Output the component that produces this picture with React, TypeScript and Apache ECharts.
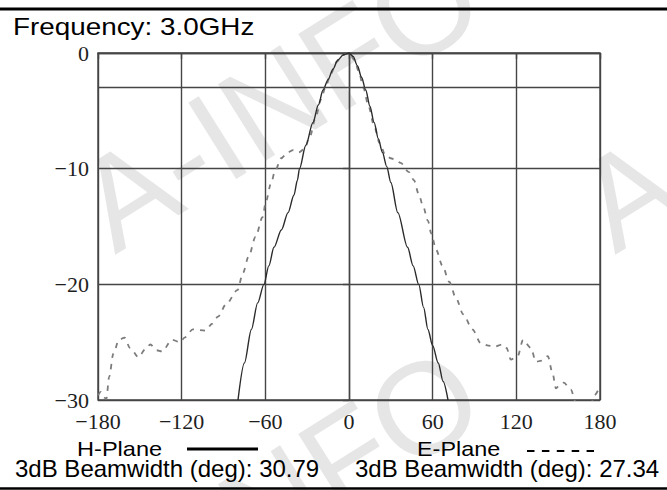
import React, { useEffect, useRef } from "react";
import * as echarts from "echarts";

// ---- data ----
const xTicks = [-180, -120, -60, 0, 60, 120, 180];
const yTicks = [-30, -20, -10, 0];
const refLevel = -3;

const hAngles = [-79.6, -75, -70, -65.5, -61, -57.5, -53.8, -48.5, -43.7, -39.5, -37, -35.5, -31, -25.8, -22, -18.6, -15, -11.5, -8, -4, 0, 3, 6, 9, 12, 15, 18, 21, 24, 27, 30, 35, 42, 46, 50, 53.5, 56.6, 60, 64, 67.5, 71];
const hValues = [-30, -26.8, -23.9, -21.6, -20, -18.4, -16.8, -15.3, -13.8, -12.3, -11, -10, -8, -6, -4.5, -3.2, -2.3, -1.4, -0.6, -0.15, 0, -0.3, -1.1, -2.1, -3.2, -4.6, -6.0, -7.4, -8.6, -9.8, -11.2, -13.8, -16.8, -18.4, -20, -22, -23.9, -25.3, -26.8, -28.4, -30];

const eAngles = [-180, -178, -175.5, -174, -172, -169, -165, -161, -157, -151, -146, -142.5, -138, -134, -127, -121, -118, -112, -103, -98, -94, -88, -80, -76, -72, -67, -62, -59.5, -56, -53, -48.7, -44, -40, -36, -32, -28, -24, -20, -17, -13, -9, -5, 0, 4, 7, 10.3, 14, 18, 22, 26, 30, 33, 37, 43, 46.6, 50, 53, 56.6, 59, 62.4, 67, 72, 76.7, 82, 88.5, 94.6, 100, 104, 110, 113, 116, 121, 124.8, 130.5, 134, 138, 142.6, 146, 148.4, 151, 154, 159, 163, 170, 174, 176, 180];
const eValues = [-29.6, -29.3, -29.8, -29.9, -28, -26, -24.8, -24.6, -25.5, -26.3, -25.6, -25.2, -25.7, -25.8, -24.8, -25, -24.6, -23.9, -24, -23.4, -22.8, -21.7, -20.5, -19, -17.6, -15.9, -14.2, -12.8, -11.3, -10.2, -9.1, -8.6, -8.4, -8.6, -8.3, -7.2, -5.6, -4.0, -3.0, -1.8, -0.8, -0.2, 0, -0.6, -1.6, -3.0, -4.6, -6.3, -7.8, -8.8, -9.1, -9.2, -9.5, -10.3, -11, -12.2, -13.2, -14.5, -15.6, -17, -18.4, -19.8, -21.2, -22.6, -23.9, -25.1, -25.3, -25.4, -25.2, -25.5, -26.5, -26.2, -24.8, -25.5, -26.7, -26.6, -26.2, -27.7, -29, -28.7, -28.5, -29.1, -30.3, -30.8, -30.2, -29.6, -28.8];

const titleText = "Frequency: 3.0GHz";
const hName = "H-Plane";
const eName = "E-Plane";
const hBeam = "3dB Beamwidth (deg): 30.79";
const eBeam = "3dB Beamwidth (deg): 27.34";
const watermark = "A-INFO";

const SANS = "'Liberation Sans', Arial, sans-serif";
const SERIF = "'Liberation Serif', 'Times New Roman', serif";
const GRIDC = "#454545";

function fmt(v: number) {
  return String(v).replace("-", "\u2212");
}

function textEl(text: string, x: number, baseline: number, size: number, scaleX = 1) {
  return {
    type: "text",
    x,
    y: baseline - 0.3465 * size,
    scaleX,
    z: 10,
    silent: true,
    style: {
      text,
      x: 0,
      y: 0,
      font: `${size}px ${SANS}`,
      fill: "#000",
      align: "left",
      verticalAlign: "middle",
    },
  };
}

function wmEl(x: number, y: number) {
  const size = 131;
  return {
    type: "text",
    x,
    y,
    rotation: 0.56,
    z: -100,
    silent: true,
    style: {
      text: watermark,
      x: 0,
      y: -0.3465 * size,
      font: `${size}px ${SANS}`,
      fill: "#e6e6e6",
      align: "left",
      verticalAlign: "middle",
    },
  };
}

export default function App() {
  const ref = useRef<HTMLDivElement>(null);
  useEffect(() => {
    if (!ref.current) return;
    const chart = echarts.init(ref.current, undefined, { renderer: "svg" });
    const axisStyle = { color: GRIDC, width: 1.4 };
    const labelStyle = {
      fontFamily: SERIF,
      fontSize: 22,
      color: "#1e1e1e",
      formatter: (v: number) => fmt(v),
    };
    chart.setOption({
      animation: false,
      grid: { left: 98, top: 53, width: 502, height: 347, show: true, borderColor: GRIDC, borderWidth: 1.4, z: 1 },
      xAxis: {
        type: "value",
        min: xTicks[0],
        max: xTicks[xTicks.length - 1],
        interval: 60,
        axisLine: { show: true, lineStyle: axisStyle },
        axisTick: { show: true, length: 6, lineStyle: axisStyle },
        splitLine: { show: true, lineStyle: axisStyle },
        axisLabel: { margin: 10, ...labelStyle },
      },
      yAxis: {
        type: "value",
        min: yTicks[0],
        max: yTicks[yTicks.length - 1],
        interval: 10,
        axisLine: { show: true, lineStyle: axisStyle },
        axisTick: { show: true, length: 6, lineStyle: axisStyle },
        splitLine: { show: true, lineStyle: axisStyle },
        axisLabel: { margin: 9, ...labelStyle },
      },
      series: [
        {
          name: hName,
          type: "line",
          data: hAngles.map((a, i) => [a, hValues[i]]),
          showSymbol: false,
          smooth: 0.3,
          smoothMonotone: "x",
          lineStyle: { color: "#2b2b2b", width: 1.4 },
          z: 4,
          markLine: {
            silent: true,
            symbol: "none",
            label: { show: false },
            lineStyle: { color: GRIDC, width: 1.4, type: "solid" },
            data: [{ yAxis: refLevel }],
          },
        },
        {
          name: eName,
          type: "line",
          data: eAngles.map((a, i) => [a, eValues[i]]),
          showSymbol: false,
          smooth: 0.3,
          smoothMonotone: "x",
          lineStyle: { color: "#7c7c7c", width: 1.8, type: [5, 6] },
          z: 3,
        },
      ],
      graphic: {
        elements: [
          wmEl(115, 255),
          wmEl(615, 255),
          wmEl(115, 655),
          { type: "line", z: 10, silent: true, shape: { x1: 0, y1: 9, x2: 667, y2: 9 }, style: { stroke: "#000", lineWidth: 3 } },
          { type: "line", z: 10, silent: true, shape: { x1: 0, y1: 488.5, x2: 667, y2: 488.5 }, style: { stroke: "#000", lineWidth: 2.5 } },
          textEl(titleText, 13, 35, 24, 1.16),
          textEl(hName, 77, 456, 20, 1.18),
          textEl(eName, 417, 456, 20, 1.17),
          textEl(hBeam, 15, 477, 24),
          textEl(eBeam, 355, 477, 24),
          { type: "line", z: 10, silent: true, shape: { x1: 187, y1: 449, x2: 258, y2: 449 }, style: { stroke: "#000", lineWidth: 3 } },
          { type: "line", z: 10, silent: true, shape: { x1: 527, y1: 451, x2: 594, y2: 451 }, style: { stroke: "#000", lineWidth: 2.2, lineDash: [7.5, 7.4] } },
        ],
      },
    });
    return () => chart.dispose();
  }, []);
  return (
    <div
      ref={ref}
      style={{ position: "absolute", left: 0, top: 0, width: 667, height: 490, background: "#fff" }}
    />
  );
}
